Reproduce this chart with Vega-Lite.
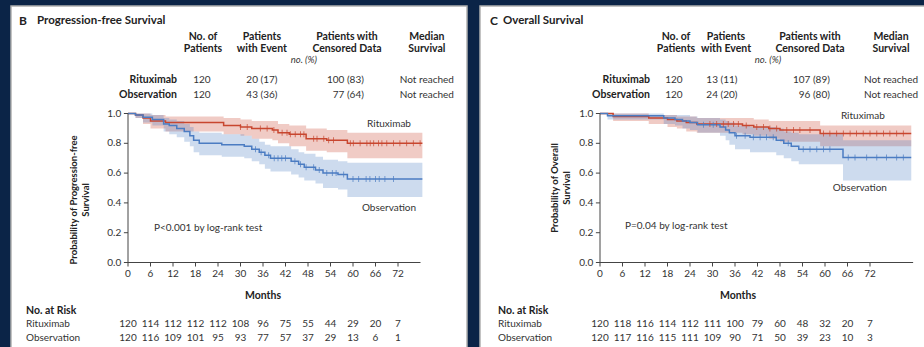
{
"$schema": "https://vega.github.io/schema/vega-lite/v6.json",
"padding": {"left": 10, "top": 5, "right": 0, "bottom": 0},
"spacing": 11,
"config": {"background": "#0b2447", "font": "Lato", "view": {"fill": "white", "stroke": "#b0b0b0", "strokeWidth": 1.5}, "axis": {"disable": true}},
"hconcat": [
{
"width": 456, "height": 342,
"layer": [
 {"data": {"values": [
  {"arm":"Rituximab","m":0,"lo":1,"hi":1},{"arm":"Rituximab","m":2,"lo":0.97,"hi":1},{"arm":"Rituximab","m":4,"lo":0.93,"hi":1},{"arm":"Rituximab","m":6,"lo":0.9,"hi":0.99},{"arm":"Rituximab","m":10,"lo":0.88,"hi":0.98},{"arm":"Rituximab","m":25.5,"lo":0.86,"hi":0.97},{"arm":"Rituximab","m":30,"lo":0.85,"hi":0.96},{"arm":"Rituximab","m":33,"lo":0.83,"hi":0.95},{"arm":"Rituximab","m":38.5,"lo":0.82,"hi":0.95},{"arm":"Rituximab","m":40,"lo":0.8,"hi":0.93},{"arm":"Rituximab","m":43,"lo":0.78,"hi":0.92},{"arm":"Rituximab","m":47.5,"lo":0.75,"hi":0.9},{"arm":"Rituximab","m":53,"lo":0.74,"hi":0.89},{"arm":"Rituximab","m":58.5,"lo":0.7,"hi":0.87},{"arm":"Rituximab","m":78.5,"lo":0.7,"hi":0.87},
  {"arm":"Observation","m":0,"lo":1,"hi":1},{"arm":"Observation","m":2,"lo":0.97,"hi":1},{"arm":"Observation","m":4,"lo":0.94,"hi":1},{"arm":"Observation","m":6.5,"lo":0.92,"hi":0.99},{"arm":"Observation","m":9.5,"lo":0.88,"hi":0.97},{"arm":"Observation","m":11,"lo":0.86,"hi":0.96},{"arm":"Observation","m":13,"lo":0.84,"hi":0.95},{"arm":"Observation","m":15,"lo":0.81,"hi":0.93},{"arm":"Observation","m":16.5,"lo":0.78,"hi":0.91},{"arm":"Observation","m":17.5,"lo":0.74,"hi":0.88},{"arm":"Observation","m":19,"lo":0.72,"hi":0.87},{"arm":"Observation","m":25,"lo":0.71,"hi":0.86},{"arm":"Observation","m":31,"lo":0.7,"hi":0.85},{"arm":"Observation","m":33,"lo":0.68,"hi":0.83},{"arm":"Observation","m":35,"lo":0.66,"hi":0.81},{"arm":"Observation","m":36.5,"lo":0.63,"hi":0.79},{"arm":"Observation","m":38,"lo":0.61,"hi":0.78},{"arm":"Observation","m":43.5,"lo":0.59,"hi":0.76},{"arm":"Observation","m":45.5,"lo":0.57,"hi":0.74},{"arm":"Observation","m":47,"lo":0.55,"hi":0.73},{"arm":"Observation","m":50,"lo":0.53,"hi":0.71},{"arm":"Observation","m":52,"lo":0.5,"hi":0.69},{"arm":"Observation","m":56,"lo":0.49,"hi":0.68},{"arm":"Observation","m":58.5,"lo":0.44,"hi":0.67},{"arm":"Observation","m":78.5,"lo":0.44,"hi":0.67}
 ]},
  "mark": {"type": "area", "interpolate": "step-after", "opacity": 0.28},
  "encoding": {
   "x": {"field": "m", "type": "quantitative", "scale": {"domain": [-31.2, 90.4], "nice": false, "zero": false}},
   "y": {"field": "lo", "type": "quantitative", "scale": {"domain": [-0.5738, 1.7215], "nice": false, "zero": false}},
   "y2": {"field": "hi"},
   "color": {"field": "arm", "type": "nominal", "scale": {"domain": ["Rituximab","Observation"], "range": ["#c8462f","#4b7cc2"]}, "legend": null}}},
 {"data": {"values": [
  {"arm":"Rituximab","m":0,"p":1},{"arm":"Rituximab","m":2,"p":0.99},{"arm":"Rituximab","m":4,"p":0.97},{"arm":"Rituximab","m":6,"p":0.95},{"arm":"Rituximab","m":10,"p":0.94},{"arm":"Rituximab","m":25.5,"p":0.92},{"arm":"Rituximab","m":30,"p":0.91},{"arm":"Rituximab","m":33,"p":0.9},{"arm":"Rituximab","m":38.5,"p":0.89},{"arm":"Rituximab","m":40,"p":0.87},{"arm":"Rituximab","m":43,"p":0.86},{"arm":"Rituximab","m":47.5,"p":0.83},{"arm":"Rituximab","m":53,"p":0.82},{"arm":"Rituximab","m":58.5,"p":0.8},{"arm":"Rituximab","m":78.5,"p":0.8},
  {"arm":"Observation","m":0,"p":1},{"arm":"Observation","m":2,"p":0.99},{"arm":"Observation","m":4,"p":0.975},{"arm":"Observation","m":6.5,"p":0.96},{"arm":"Observation","m":9.5,"p":0.93},{"arm":"Observation","m":11,"p":0.92},{"arm":"Observation","m":13,"p":0.9},{"arm":"Observation","m":15,"p":0.88},{"arm":"Observation","m":16.5,"p":0.85},{"arm":"Observation","m":17.5,"p":0.82},{"arm":"Observation","m":19,"p":0.8},{"arm":"Observation","m":25,"p":0.79},{"arm":"Observation","m":31,"p":0.78},{"arm":"Observation","m":33,"p":0.76},{"arm":"Observation","m":35,"p":0.74},{"arm":"Observation","m":36.5,"p":0.72},{"arm":"Observation","m":38,"p":0.7},{"arm":"Observation","m":43.5,"p":0.68},{"arm":"Observation","m":45.5,"p":0.66},{"arm":"Observation","m":47,"p":0.64},{"arm":"Observation","m":50,"p":0.62},{"arm":"Observation","m":52,"p":0.6},{"arm":"Observation","m":56,"p":0.59},{"arm":"Observation","m":58.5,"p":0.56},{"arm":"Observation","m":78.5,"p":0.56}
 ]},
  "mark": {"type": "line", "interpolate": "step-after", "strokeWidth": 1.5},
  "encoding": {
   "x": {"field": "m", "type": "quantitative", "scale": {"domain": [-31.2, 90.4], "nice": false, "zero": false}},
   "y": {"field": "p", "type": "quantitative", "scale": {"domain": [-0.5738, 1.7215], "nice": false, "zero": false}},
   "color": {"field": "arm", "type": "nominal", "scale": {"domain": ["Rituximab","Observation"], "range": ["#c8462f","#4b7cc2"]}, "legend": null}}},
 {"data": {"values": [
  {"arm":"Rituximab","m":30,"p":0.91},{"arm":"Rituximab","m":31.8,"p":0.91},{"arm":"Rituximab","m":35.3,"p":0.9},{"arm":"Rituximab","m":37.1,"p":0.9},{"arm":"Rituximab","m":38.9,"p":0.89},{"arm":"Rituximab","m":41.1,"p":0.87},{"arm":"Rituximab","m":42.4,"p":0.87},{"arm":"Rituximab","m":43.3,"p":0.86},{"arm":"Rituximab","m":44.6,"p":0.86},{"arm":"Rituximab","m":46,"p":0.86},{"arm":"Rituximab","m":46.9,"p":0.86},{"arm":"Rituximab","m":49.5,"p":0.83},{"arm":"Rituximab","m":50.4,"p":0.83},{"arm":"Rituximab","m":52.2,"p":0.83},{"arm":"Rituximab","m":53.5,"p":0.82},{"arm":"Rituximab","m":54.8,"p":0.82},{"arm":"Rituximab","m":59.3,"p":0.8},{"arm":"Rituximab","m":60.1,"p":0.8},{"arm":"Rituximab","m":61.9,"p":0.8},{"arm":"Rituximab","m":63.7,"p":0.8},{"arm":"Rituximab","m":64.6,"p":0.8},{"arm":"Rituximab","m":65.5,"p":0.8},{"arm":"Rituximab","m":66.8,"p":0.8},{"arm":"Rituximab","m":67.7,"p":0.8},{"arm":"Rituximab","m":69,"p":0.8},{"arm":"Rituximab","m":70.8,"p":0.8},{"arm":"Rituximab","m":72.5,"p":0.8},{"arm":"Rituximab","m":74.3,"p":0.8},{"arm":"Rituximab","m":76.1,"p":0.8},{"arm":"Rituximab","m":77.9,"p":0.8},
  {"arm":"Observation","m":34,"p":0.76},{"arm":"Observation","m":35.5,"p":0.74},{"arm":"Observation","m":37.5,"p":0.72},{"arm":"Observation","m":39,"p":0.7},{"arm":"Observation","m":40,"p":0.7},{"arm":"Observation","m":41,"p":0.7},{"arm":"Observation","m":42,"p":0.7},{"arm":"Observation","m":44.5,"p":0.68},{"arm":"Observation","m":46,"p":0.66},{"arm":"Observation","m":47.5,"p":0.64},{"arm":"Observation","m":49.5,"p":0.64},{"arm":"Observation","m":51,"p":0.62},{"arm":"Observation","m":53,"p":0.6},{"arm":"Observation","m":54.5,"p":0.6},{"arm":"Observation","m":55.5,"p":0.6},{"arm":"Observation","m":57.5,"p":0.59},{"arm":"Observation","m":60,"p":0.56},{"arm":"Observation","m":61.5,"p":0.56},{"arm":"Observation","m":63.5,"p":0.56},{"arm":"Observation","m":64.5,"p":0.56},{"arm":"Observation","m":66,"p":0.56},{"arm":"Observation","m":67,"p":0.56},{"arm":"Observation","m":68.5,"p":0.56},{"arm":"Observation","m":70.8,"p":0.56}
 ]},
  "mark": {"type": "tick", "orient": "vertical", "size": 6, "thickness": 1},
  "encoding": {
   "x": {"field": "m", "type": "quantitative", "scale": {"domain": [-31.2, 90.4], "nice": false, "zero": false}},
   "y": {"field": "p", "type": "quantitative", "scale": {"domain": [-0.5738, 1.7215], "nice": false, "zero": false}},
   "color": {"field": "arm", "type": "nominal", "scale": {"domain": ["Rituximab","Observation"], "range": ["#c8462f","#4b7cc2"]}, "legend": null}}},
 {"data": {"values": [
  {"m":0,"m2":78,"p":0,"p2":0},{"m":0,"m2":0,"p":0,"p2":1},
  {"m":0,"m2":0,"p":0,"p2":-0.027},{"m":6,"m2":6,"p":0,"p2":-0.027},{"m":12,"m2":12,"p":0,"p2":-0.027},{"m":18,"m2":18,"p":0,"p2":-0.027},{"m":24,"m2":24,"p":0,"p2":-0.027},{"m":30,"m2":30,"p":0,"p2":-0.027},{"m":36,"m2":36,"p":0,"p2":-0.027},{"m":42,"m2":42,"p":0,"p2":-0.027},{"m":48,"m2":48,"p":0,"p2":-0.027},{"m":54,"m2":54,"p":0,"p2":-0.027},{"m":60,"m2":60,"p":0,"p2":-0.027},{"m":66,"m2":66,"p":0,"p2":-0.027},{"m":72,"m2":72,"p":0,"p2":-0.027},
  {"m":0,"m2":-1.1,"p":0,"p2":0},{"m":0,"m2":-1.1,"p":0.2,"p2":0.2},{"m":0,"m2":-1.1,"p":0.4,"p2":0.4},{"m":0,"m2":-1.1,"p":0.6,"p2":0.6},{"m":0,"m2":-1.1,"p":0.8,"p2":0.8},{"m":0,"m2":-1.1,"p":1,"p2":1}
 ]},
  "mark": {"type": "rule", "color": "#444", "strokeWidth": 1},
  "encoding": {
   "x": {"field": "m", "type": "quantitative", "scale": {"domain": [-31.2, 90.4], "nice": false, "zero": false}},
   "x2": {"field": "m2"},
   "y": {"field": "p", "type": "quantitative", "scale": {"domain": [-0.5738, 1.7215], "nice": false, "zero": false}},
   "y2": {"field": "p2"}}},
 {"data": {"values": [
  {"t":"0","m":0,"p":-0.077},{"t":"6","m":6,"p":-0.077},{"t":"12","m":12,"p":-0.077},{"t":"18","m":18,"p":-0.077},{"t":"24","m":24,"p":-0.077},{"t":"30","m":30,"p":-0.077},{"t":"36","m":36,"p":-0.077},{"t":"42","m":42,"p":-0.077},{"t":"48","m":48,"p":-0.077},{"t":"54","m":54,"p":-0.077},{"t":"60","m":60,"p":-0.077},{"t":"66","m":66,"p":-0.077},{"t":"72","m":72,"p":-0.077}
 ]},
  "mark": {"type": "text", "align": "center", "baseline": "middle", "fontSize": 10, "color": "#333"},
  "encoding": {
   "x": {"field": "m", "type": "quantitative", "scale": {"domain": [-31.2, 90.4], "nice": false, "zero": false}},
   "y": {"field": "p", "type": "quantitative", "scale": {"domain": [-0.5738, 1.7215], "nice": false, "zero": false}},
   "text": {"field": "t"}}},
 {"data": {"values": [
  {"t":"0.0","m":-1.8,"p":0},{"t":"0.2","m":-1.8,"p":0.2},{"t":"0.4","m":-1.8,"p":0.4},{"t":"0.6","m":-1.8,"p":0.6},{"t":"0.8","m":-1.8,"p":0.8},{"t":"1.0","m":-1.8,"p":1}
 ]},
  "mark": {"type": "text", "align": "right", "baseline": "middle", "fontSize": 10, "color": "#333"},
  "encoding": {
   "x": {"field": "m", "type": "quantitative", "scale": {"domain": [-31.2, 90.4], "nice": false, "zero": false}},
   "y": {"field": "p", "type": "quantitative", "scale": {"domain": [-0.5738, 1.7215], "nice": false, "zero": false}},
   "text": {"field": "t"}}},
 {"data": {"values": [
  {"t":"No. of","m":20.0,"p":1.513},{"t":"Patients","m":20.0,"p":1.433},{"t":"Patients","m":35.7,"p":1.513},{"t":"with Event","m":35.7,"p":1.433},{"t":"Patients with","m":58.4,"p":1.513},{"t":"Censored Data","m":58.4,"p":1.433},{"t":"Median","m":79.7,"p":1.513},{"t":"Survival","m":79.7,"p":1.433},{"t":"Months","m":36,"p":-0.2248}
 ]},
  "mark": {"type": "text", "align": "center", "baseline": "middle", "fontWeight": "bold", "fontSize": 10.5, "color": "#222"},
  "encoding": {
   "x": {"field": "m", "type": "quantitative", "scale": {"domain": [-31.2, 90.4], "nice": false, "zero": false}},
   "y": {"field": "p", "type": "quantitative", "scale": {"domain": [-0.5738, 1.7215], "nice": false, "zero": false}},
   "text": {"field": "t"}}},
 {"data": {"values": [{"t": "B", "m": -29.07, "p": 1.621}]},
  "mark": {"type": "text", "align": "left", "baseline": "middle", "fontWeight": "bold", "fontSize": 12, "color": "#222"},
  "encoding": {
   "x": {"field": "m", "type": "quantitative", "scale": {"domain": [-31.2, 90.4], "nice": false, "zero": false}},
   "y": {"field": "p", "type": "quantitative", "scale": {"domain": [-0.5738, 1.7215], "nice": false, "zero": false}},
   "text": {"field": "t"}}},
 {"data": {"values": [{"t": "Progression-free Survival", "m": -24.27, "p": 1.621}]},
  "mark": {"type": "text", "align": "left", "baseline": "middle", "fontWeight": "bold", "fontSize": 11.5, "color": "#222"},
  "encoding": {
   "x": {"field": "m", "type": "quantitative", "scale": {"domain": [-31.2, 90.4], "nice": false, "zero": false}},
   "y": {"field": "p", "type": "quantitative", "scale": {"domain": [-0.5738, 1.7215], "nice": false, "zero": false}},
   "text": {"field": "t"}}},
 {"data": {"values": [{"t": "No. at Risk", "m": -27.2, "p": -0.3255}]},
  "mark": {"type": "text", "align": "left", "baseline": "middle", "fontWeight": "bold", "fontSize": 10.5, "color": "#222"},
  "encoding": {
   "x": {"field": "m", "type": "quantitative", "scale": {"domain": [-31.2, 90.4], "nice": false, "zero": false}},
   "y": {"field": "p", "type": "quantitative", "scale": {"domain": [-0.5738, 1.7215], "nice": false, "zero": false}},
   "text": {"field": "t"}}},
 {"data": {"values": [{"t": "no. (%)", "m": 46.9, "p": 1.359}]},
  "mark": {"type": "text", "align": "center", "baseline": "middle", "fontStyle": "italic", "fontSize": 9.5, "color": "#333"},
  "encoding": {
   "x": {"field": "m", "type": "quantitative", "scale": {"domain": [-31.2, 90.4], "nice": false, "zero": false}},
   "y": {"field": "p", "type": "quantitative", "scale": {"domain": [-0.5738, 1.7215], "nice": false, "zero": false}},
   "text": {"field": "t"}}},
 {"data": {"values": [{"t": "Rituximab", "m": 13.07, "p": 1.225}, {"t": "Observation", "m": 13.07, "p": 1.124}]},
  "mark": {"type": "text", "align": "right", "baseline": "middle", "fontWeight": "bold", "fontSize": 10.5, "color": "#222"},
  "encoding": {
   "x": {"field": "m", "type": "quantitative", "scale": {"domain": [-31.2, 90.4], "nice": false, "zero": false}},
   "y": {"field": "p", "type": "quantitative", "scale": {"domain": [-0.5738, 1.7215], "nice": false, "zero": false}},
   "text": {"field": "t"}}},
 {"data": {"values": [
  {"t":"120","m":19.7,"p":1.225},{"t":"120","m":19.7,"p":1.124},{"t":"20 (17)","m":35.7,"p":1.225},{"t":"43 (36)","m":35.7,"p":1.124},{"t":"Not reached","m":79.7,"p":1.225},{"t":"Not reached","m":79.7,"p":1.124},
  {"t":"Rituximab","m":69.6,"p":0.9295},{"t":"Observation","m":69.6,"p":0.366},
  {"t":"120","m":0,"p":-0.4128},{"t":"114","m":6,"p":-0.4128},{"t":"112","m":12,"p":-0.4128},{"t":"112","m":18,"p":-0.4128},{"t":"112","m":24,"p":-0.4128},{"t":"108","m":30,"p":-0.4128},{"t":"96","m":36,"p":-0.4128},{"t":"75","m":42,"p":-0.4128},{"t":"55","m":48,"p":-0.4128},{"t":"44","m":54,"p":-0.4128},{"t":"29","m":60,"p":-0.4128},{"t":"20","m":66,"p":-0.4128},{"t":"7","m":72,"p":-0.4128},
  {"t":"120","m":0,"p":-0.5067},{"t":"116","m":6,"p":-0.5067},{"t":"109","m":12,"p":-0.5067},{"t":"101","m":18,"p":-0.5067},{"t":"95","m":24,"p":-0.5067},{"t":"93","m":30,"p":-0.5067},{"t":"77","m":36,"p":-0.5067},{"t":"57","m":42,"p":-0.5067},{"t":"37","m":48,"p":-0.5067},{"t":"29","m":54,"p":-0.5067},{"t":"13","m":60,"p":-0.5067},{"t":"6","m":66,"p":-0.5067},{"t":"1","m":72,"p":-0.5067}
 ]},
  "mark": {"type": "text", "align": "center", "baseline": "middle", "fontSize": 10, "color": "#333"},
  "encoding": {
   "x": {"field": "m", "type": "quantitative", "scale": {"domain": [-31.2, 90.4], "nice": false, "zero": false}},
   "y": {"field": "p", "type": "quantitative", "scale": {"domain": [-0.5738, 1.7215], "nice": false, "zero": false}},
   "text": {"field": "t"}}},
 {"data": {"values": [{"t":"100 (83)","m":62.9,"p":1.225},{"t":"77 (64)","m":62.9,"p":1.124}]},
  "mark": {"type": "text", "align": "right", "baseline": "middle", "fontSize": 10, "color": "#333"},
  "encoding": {
   "x": {"field": "m", "type": "quantitative", "scale": {"domain": [-31.2, 90.4], "nice": false, "zero": false}},
   "y": {"field": "p", "type": "quantitative", "scale": {"domain": [-0.5738, 1.7215], "nice": false, "zero": false}},
   "text": {"field": "t"}}},
 {"data": {"values": [{"t":"P<0.001 by log-rank test","m":6.93,"p":0.2315},{"t":"Rituximab","m":-27.2,"p":-0.4128},{"t":"Observation","m":-27.2,"p":-0.5067}]},
  "mark": {"type": "text", "align": "left", "baseline": "middle", "fontSize": 10, "color": "#333"},
  "encoding": {
   "x": {"field": "m", "type": "quantitative", "scale": {"domain": [-31.2, 90.4], "nice": false, "zero": false}},
   "y": {"field": "p", "type": "quantitative", "scale": {"domain": [-0.5738, 1.7215], "nice": false, "zero": false}},
   "text": {"field": "t"}}},
 {"data": {"values": [{"t":"Probability of Progression-free\nSurvival","m":-14.4,"p":0.42}]},
  "mark": {"type": "text", "align": "center", "baseline": "middle", "angle": 270, "lineBreak": "\n", "lineHeight": 12, "fontWeight": "bold", "fontSize": 9.5, "color": "#222"},
  "encoding": {
   "x": {"field": "m", "type": "quantitative", "scale": {"domain": [-31.2, 90.4], "nice": false, "zero": false}},
   "y": {"field": "p", "type": "quantitative", "scale": {"domain": [-0.5738, 1.7215], "nice": false, "zero": false}},
   "text": {"field": "t"}}}
]
},
{
"width": 447, "height": 342,
"layer": [
 {"data": {"values": [
  {"arm":"Rituximab","m":0,"lo":1,"hi":1},{"arm":"Rituximab","m":3.5,"lo":0.95,"hi":1},{"arm":"Rituximab","m":13,"lo":0.93,"hi":0.99},{"arm":"Rituximab","m":18,"lo":0.91,"hi":0.99},{"arm":"Rituximab","m":20.5,"lo":0.9,"hi":0.98},{"arm":"Rituximab","m":23,"lo":0.88,"hi":0.98},{"arm":"Rituximab","m":25.8,"lo":0.87,"hi":0.97},{"arm":"Rituximab","m":38,"lo":0.86,"hi":0.97},{"arm":"Rituximab","m":41,"lo":0.85,"hi":0.96},{"arm":"Rituximab","m":45,"lo":0.83,"hi":0.95},{"arm":"Rituximab","m":48,"lo":0.81,"hi":0.95},{"arm":"Rituximab","m":58.7,"lo":0.78,"hi":0.92},{"arm":"Rituximab","m":83,"lo":0.78,"hi":0.92},
  {"arm":"Observation","m":0,"lo":1,"hi":1},{"arm":"Observation","m":2,"lo":0.96,"hi":1},{"arm":"Observation","m":17,"lo":0.93,"hi":0.99},{"arm":"Observation","m":20,"lo":0.92,"hi":0.99},{"arm":"Observation","m":22,"lo":0.9,"hi":0.99},{"arm":"Observation","m":24,"lo":0.89,"hi":0.98},{"arm":"Observation","m":26,"lo":0.87,"hi":0.97},{"arm":"Observation","m":32,"lo":0.85,"hi":0.96},{"arm":"Observation","m":33.5,"lo":0.82,"hi":0.95},{"arm":"Observation","m":34.5,"lo":0.79,"hi":0.94},{"arm":"Observation","m":36,"lo":0.76,"hi":0.92},{"arm":"Observation","m":40,"lo":0.74,"hi":0.91},{"arm":"Observation","m":47,"lo":0.72,"hi":0.9},{"arm":"Observation","m":49,"lo":0.7,"hi":0.88},{"arm":"Observation","m":51,"lo":0.68,"hi":0.87},{"arm":"Observation","m":53,"lo":0.66,"hi":0.86},{"arm":"Observation","m":64.8,"lo":0.55,"hi":0.82},{"arm":"Observation","m":83,"lo":0.55,"hi":0.82}
 ]},
  "mark": {"type": "area", "interpolate": "step-after", "opacity": 0.28},
  "encoding": {
   "x": {"field": "m", "type": "quantitative", "scale": {"domain": [-32, 87.2], "nice": false, "zero": false}},
   "y": {"field": "lo", "type": "quantitative", "scale": {"domain": [-0.5738, 1.7215], "nice": false, "zero": false}},
   "y2": {"field": "hi"},
   "color": {"field": "arm", "type": "nominal", "scale": {"domain": ["Rituximab","Observation"], "range": ["#c8462f","#4b7cc2"]}, "legend": null}}},
 {"data": {"values": [
  {"arm":"Rituximab","m":0,"p":1},{"arm":"Rituximab","m":3.5,"p":0.98},{"arm":"Rituximab","m":13,"p":0.97},{"arm":"Rituximab","m":18,"p":0.96},{"arm":"Rituximab","m":20.5,"p":0.95},{"arm":"Rituximab","m":23,"p":0.94},{"arm":"Rituximab","m":25.8,"p":0.93},{"arm":"Rituximab","m":38,"p":0.92},{"arm":"Rituximab","m":41,"p":0.91},{"arm":"Rituximab","m":45,"p":0.9},{"arm":"Rituximab","m":48,"p":0.89},{"arm":"Rituximab","m":58.7,"p":0.865},{"arm":"Rituximab","m":83,"p":0.865},
  {"arm":"Observation","m":0,"p":1},{"arm":"Observation","m":2,"p":0.985},{"arm":"Observation","m":17,"p":0.97},{"arm":"Observation","m":20,"p":0.96},{"arm":"Observation","m":22,"p":0.95},{"arm":"Observation","m":24,"p":0.94},{"arm":"Observation","m":26,"p":0.925},{"arm":"Observation","m":32,"p":0.91},{"arm":"Observation","m":33.5,"p":0.89},{"arm":"Observation","m":34.5,"p":0.87},{"arm":"Observation","m":36,"p":0.85},{"arm":"Observation","m":40,"p":0.84},{"arm":"Observation","m":47,"p":0.82},{"arm":"Observation","m":49,"p":0.8},{"arm":"Observation","m":51,"p":0.78},{"arm":"Observation","m":53,"p":0.76},{"arm":"Observation","m":64.8,"p":0.705},{"arm":"Observation","m":83,"p":0.705}
 ]},
  "mark": {"type": "line", "interpolate": "step-after", "strokeWidth": 1.5},
  "encoding": {
   "x": {"field": "m", "type": "quantitative", "scale": {"domain": [-32, 87.2], "nice": false, "zero": false}},
   "y": {"field": "p", "type": "quantitative", "scale": {"domain": [-0.5738, 1.7215], "nice": false, "zero": false}},
   "color": {"field": "arm", "type": "nominal", "scale": {"domain": ["Rituximab","Observation"], "range": ["#c8462f","#4b7cc2"]}, "legend": null}}},
 {"data": {"values": [
  {"arm":"Rituximab","m":29.3,"p":0.93},{"arm":"Rituximab","m":31.1,"p":0.93},{"arm":"Rituximab","m":32.9,"p":0.93},{"arm":"Rituximab","m":34.2,"p":0.93},{"arm":"Rituximab","m":35.6,"p":0.93},{"arm":"Rituximab","m":36.9,"p":0.93},{"arm":"Rituximab","m":39,"p":0.92},{"arm":"Rituximab","m":41.8,"p":0.91},{"arm":"Rituximab","m":43.6,"p":0.91},{"arm":"Rituximab","m":45.3,"p":0.9},{"arm":"Rituximab","m":47.1,"p":0.9},{"arm":"Rituximab","m":49.8,"p":0.89},{"arm":"Rituximab","m":51.6,"p":0.89},{"arm":"Rituximab","m":53.3,"p":0.89},{"arm":"Rituximab","m":56,"p":0.89},{"arm":"Rituximab","m":59.6,"p":0.865},{"arm":"Rituximab","m":61.3,"p":0.865},{"arm":"Rituximab","m":63.1,"p":0.865},{"arm":"Rituximab","m":64.9,"p":0.865},{"arm":"Rituximab","m":66.7,"p":0.865},{"arm":"Rituximab","m":68.4,"p":0.865},{"arm":"Rituximab","m":70.2,"p":0.865},{"arm":"Rituximab","m":72,"p":0.865},{"arm":"Rituximab","m":73.8,"p":0.865},{"arm":"Rituximab","m":75.6,"p":0.865},{"arm":"Rituximab","m":77.3,"p":0.865},{"arm":"Rituximab","m":79.1,"p":0.865},{"arm":"Rituximab","m":80.9,"p":0.865},
  {"arm":"Observation","m":27.6,"p":0.925},{"arm":"Observation","m":30.2,"p":0.925},{"arm":"Observation","m":36.4,"p":0.85},{"arm":"Observation","m":38.7,"p":0.85},{"arm":"Observation","m":40.9,"p":0.84},{"arm":"Observation","m":42.7,"p":0.84},{"arm":"Observation","m":44.4,"p":0.84},{"arm":"Observation","m":46.2,"p":0.84},{"arm":"Observation","m":50.2,"p":0.8},{"arm":"Observation","m":54.2,"p":0.76},{"arm":"Observation","m":56,"p":0.76},{"arm":"Observation","m":57.8,"p":0.76},{"arm":"Observation","m":59.6,"p":0.76},{"arm":"Observation","m":61.3,"p":0.76},{"arm":"Observation","m":66.2,"p":0.705},{"arm":"Observation","m":68,"p":0.705},{"arm":"Observation","m":71.1,"p":0.705},{"arm":"Observation","m":73.8,"p":0.705},{"arm":"Observation","m":76.4,"p":0.705},{"arm":"Observation","m":79.1,"p":0.705},{"arm":"Observation","m":80.9,"p":0.705}
 ]},
  "mark": {"type": "tick", "orient": "vertical", "size": 6, "thickness": 1},
  "encoding": {
   "x": {"field": "m", "type": "quantitative", "scale": {"domain": [-32, 87.2], "nice": false, "zero": false}},
   "y": {"field": "p", "type": "quantitative", "scale": {"domain": [-0.5738, 1.7215], "nice": false, "zero": false}},
   "color": {"field": "arm", "type": "nominal", "scale": {"domain": ["Rituximab","Observation"], "range": ["#c8462f","#4b7cc2"]}, "legend": null}}},
 {"data": {"values": [
  {"m":0,"m2":83.5,"p":0,"p2":0},{"m":0,"m2":0,"p":0,"p2":1},
  {"m":0,"m2":0,"p":0,"p2":-0.027},{"m":6,"m2":6,"p":0,"p2":-0.027},{"m":12,"m2":12,"p":0,"p2":-0.027},{"m":18,"m2":18,"p":0,"p2":-0.027},{"m":24,"m2":24,"p":0,"p2":-0.027},{"m":30,"m2":30,"p":0,"p2":-0.027},{"m":36,"m2":36,"p":0,"p2":-0.027},{"m":42,"m2":42,"p":0,"p2":-0.027},{"m":48,"m2":48,"p":0,"p2":-0.027},{"m":54,"m2":54,"p":0,"p2":-0.027},{"m":60,"m2":60,"p":0,"p2":-0.027},{"m":66,"m2":66,"p":0,"p2":-0.027},{"m":72,"m2":72,"p":0,"p2":-0.027},
  {"m":0,"m2":-1.1,"p":0,"p2":0},{"m":0,"m2":-1.1,"p":0.2,"p2":0.2},{"m":0,"m2":-1.1,"p":0.4,"p2":0.4},{"m":0,"m2":-1.1,"p":0.6,"p2":0.6},{"m":0,"m2":-1.1,"p":0.8,"p2":0.8},{"m":0,"m2":-1.1,"p":1,"p2":1}
 ]},
  "mark": {"type": "rule", "color": "#444", "strokeWidth": 1},
  "encoding": {
   "x": {"field": "m", "type": "quantitative", "scale": {"domain": [-32, 87.2], "nice": false, "zero": false}},
   "x2": {"field": "m2"},
   "y": {"field": "p", "type": "quantitative", "scale": {"domain": [-0.5738, 1.7215], "nice": false, "zero": false}},
   "y2": {"field": "p2"}}},
 {"data": {"values": [
  {"t":"0","m":0,"p":-0.077},{"t":"6","m":6,"p":-0.077},{"t":"12","m":12,"p":-0.077},{"t":"18","m":18,"p":-0.077},{"t":"24","m":24,"p":-0.077},{"t":"30","m":30,"p":-0.077},{"t":"36","m":36,"p":-0.077},{"t":"42","m":42,"p":-0.077},{"t":"48","m":48,"p":-0.077},{"t":"54","m":54,"p":-0.077},{"t":"60","m":60,"p":-0.077},{"t":"66","m":66,"p":-0.077},{"t":"72","m":72,"p":-0.077}
 ]},
  "mark": {"type": "text", "align": "center", "baseline": "middle", "fontSize": 10, "color": "#333"},
  "encoding": {
   "x": {"field": "m", "type": "quantitative", "scale": {"domain": [-32, 87.2], "nice": false, "zero": false}},
   "y": {"field": "p", "type": "quantitative", "scale": {"domain": [-0.5738, 1.7215], "nice": false, "zero": false}},
   "text": {"field": "t"}}},
 {"data": {"values": [
  {"t":"0.0","m":-1.8,"p":0},{"t":"0.2","m":-1.8,"p":0.2},{"t":"0.4","m":-1.8,"p":0.4},{"t":"0.6","m":-1.8,"p":0.6},{"t":"0.8","m":-1.8,"p":0.8},{"t":"1.0","m":-1.8,"p":1}
 ]},
  "mark": {"type": "text", "align": "right", "baseline": "middle", "fontSize": 10, "color": "#333"},
  "encoding": {
   "x": {"field": "m", "type": "quantitative", "scale": {"domain": [-32, 87.2], "nice": false, "zero": false}},
   "y": {"field": "p", "type": "quantitative", "scale": {"domain": [-0.5738, 1.7215], "nice": false, "zero": false}},
   "text": {"field": "t"}}},
 {"data": {"values": [
  {"t":"No. of","m":20.27,"p":1.513},{"t":"Patients","m":20.27,"p":1.433},{"t":"Patients","m":33.6,"p":1.513},{"t":"with Event","m":33.6,"p":1.433},{"t":"Patients with","m":56,"p":1.513},{"t":"Censored Data","m":56,"p":1.433},{"t":"Median","m":77.6,"p":1.513},{"t":"Survival","m":77.6,"p":1.433},{"t":"Months","m":36.8,"p":-0.2248}
 ]},
  "mark": {"type": "text", "align": "center", "baseline": "middle", "fontWeight": "bold", "fontSize": 10.5, "color": "#222"},
  "encoding": {
   "x": {"field": "m", "type": "quantitative", "scale": {"domain": [-32, 87.2], "nice": false, "zero": false}},
   "y": {"field": "p", "type": "quantitative", "scale": {"domain": [-0.5738, 1.7215], "nice": false, "zero": false}},
   "text": {"field": "t"}}},
 {"data": {"values": [{"t": "C", "m": -29.33, "p": 1.621}]},
  "mark": {"type": "text", "align": "left", "baseline": "middle", "fontWeight": "bold", "fontSize": 12, "color": "#222"},
  "encoding": {
   "x": {"field": "m", "type": "quantitative", "scale": {"domain": [-32, 87.2], "nice": false, "zero": false}},
   "y": {"field": "p", "type": "quantitative", "scale": {"domain": [-0.5738, 1.7215], "nice": false, "zero": false}},
   "text": {"field": "t"}}},
 {"data": {"values": [{"t": "Overall Survival", "m": -25.87, "p": 1.621}]},
  "mark": {"type": "text", "align": "left", "baseline": "middle", "fontWeight": "bold", "fontSize": 11.5, "color": "#222"},
  "encoding": {
   "x": {"field": "m", "type": "quantitative", "scale": {"domain": [-32, 87.2], "nice": false, "zero": false}},
   "y": {"field": "p", "type": "quantitative", "scale": {"domain": [-0.5738, 1.7215], "nice": false, "zero": false}},
   "text": {"field": "t"}}},
 {"data": {"values": [{"t": "No. at Risk", "m": -27.2, "p": -0.3255}]},
  "mark": {"type": "text", "align": "left", "baseline": "middle", "fontWeight": "bold", "fontSize": 10.5, "color": "#222"},
  "encoding": {
   "x": {"field": "m", "type": "quantitative", "scale": {"domain": [-32, 87.2], "nice": false, "zero": false}},
   "y": {"field": "p", "type": "quantitative", "scale": {"domain": [-0.5738, 1.7215], "nice": false, "zero": false}},
   "text": {"field": "t"}}},
 {"data": {"values": [{"t": "no. (%)", "m": 44.8, "p": 1.359}]},
  "mark": {"type": "text", "align": "center", "baseline": "middle", "fontStyle": "italic", "fontSize": 9.5, "color": "#333"},
  "encoding": {
   "x": {"field": "m", "type": "quantitative", "scale": {"domain": [-32, 87.2], "nice": false, "zero": false}},
   "y": {"field": "p", "type": "quantitative", "scale": {"domain": [-0.5738, 1.7215], "nice": false, "zero": false}},
   "text": {"field": "t"}}},
 {"data": {"values": [{"t": "Rituximab", "m": 13.33, "p": 1.225}, {"t": "Observation", "m": 13.33, "p": 1.124}]},
  "mark": {"type": "text", "align": "right", "baseline": "middle", "fontWeight": "bold", "fontSize": 10.5, "color": "#222"},
  "encoding": {
   "x": {"field": "m", "type": "quantitative", "scale": {"domain": [-32, 87.2], "nice": false, "zero": false}},
   "y": {"field": "p", "type": "quantitative", "scale": {"domain": [-0.5738, 1.7215], "nice": false, "zero": false}},
   "text": {"field": "t"}}},
 {"data": {"values": [
  {"t":"120","m":19.7,"p":1.225},{"t":"120","m":19.7,"p":1.124},{"t":"13 (11)","m":32.5,"p":1.225},{"t":"24 (20)","m":32.5,"p":1.124},{"t":"Not reached","m":77.6,"p":1.225},{"t":"Not reached","m":77.6,"p":1.124},
  {"t":"Rituximab","m":70.1,"p":0.983},{"t":"Observation","m":69.3,"p":0.5},
  {"t":"120","m":0,"p":-0.4128},{"t":"118","m":6,"p":-0.4128},{"t":"116","m":12,"p":-0.4128},{"t":"114","m":18,"p":-0.4128},{"t":"112","m":24,"p":-0.4128},{"t":"111","m":30,"p":-0.4128},{"t":"100","m":36,"p":-0.4128},{"t":"79","m":42,"p":-0.4128},{"t":"60","m":48,"p":-0.4128},{"t":"48","m":54,"p":-0.4128},{"t":"32","m":60,"p":-0.4128},{"t":"20","m":66,"p":-0.4128},{"t":"7","m":72,"p":-0.4128},
  {"t":"120","m":0,"p":-0.5067},{"t":"117","m":6,"p":-0.5067},{"t":"116","m":12,"p":-0.5067},{"t":"115","m":18,"p":-0.5067},{"t":"111","m":24,"p":-0.5067},{"t":"109","m":30,"p":-0.5067},{"t":"90","m":36,"p":-0.5067},{"t":"71","m":42,"p":-0.5067},{"t":"50","m":48,"p":-0.5067},{"t":"39","m":54,"p":-0.5067},{"t":"23","m":60,"p":-0.5067},{"t":"10","m":66,"p":-0.5067},{"t":"3","m":72,"p":-0.5067}
 ]},
  "mark": {"type": "text", "align": "center", "baseline": "middle", "fontSize": 10, "color": "#333"},
  "encoding": {
   "x": {"field": "m", "type": "quantitative", "scale": {"domain": [-32, 87.2], "nice": false, "zero": false}},
   "y": {"field": "p", "type": "quantitative", "scale": {"domain": [-0.5738, 1.7215], "nice": false, "zero": false}},
   "text": {"field": "t"}}},
 {"data": {"values": [{"t":"107 (89)","m":61.3,"p":1.225},{"t":"96 (80)","m":61.3,"p":1.124}]},
  "mark": {"type": "text", "align": "right", "baseline": "middle", "fontSize": 10, "color": "#333"},
  "encoding": {
   "x": {"field": "m", "type": "quantitative", "scale": {"domain": [-32, 87.2], "nice": false, "zero": false}},
   "y": {"field": "p", "type": "quantitative", "scale": {"domain": [-0.5738, 1.7215], "nice": false, "zero": false}},
   "text": {"field": "t"}}},
 {"data": {"values": [{"t":"P=0.04 by log-rank test","m":6.67,"p":0.245},{"t":"Rituximab","m":-27.2,"p":-0.4128},{"t":"Observation","m":-27.2,"p":-0.5067}]},
  "mark": {"type": "text", "align": "left", "baseline": "middle", "fontSize": 10, "color": "#333"},
  "encoding": {
   "x": {"field": "m", "type": "quantitative", "scale": {"domain": [-32, 87.2], "nice": false, "zero": false}},
   "y": {"field": "p", "type": "quantitative", "scale": {"domain": [-0.5738, 1.7215], "nice": false, "zero": false}},
   "text": {"field": "t"}}},
 {"data": {"values": [{"t":"Probability of Overall\nSurvival","m":-12.0,"p":0.5}]},
  "mark": {"type": "text", "align": "center", "baseline": "middle", "angle": 270, "lineBreak": "\n", "lineHeight": 12, "fontWeight": "bold", "fontSize": 9.5, "color": "#222"},
  "encoding": {
   "x": {"field": "m", "type": "quantitative", "scale": {"domain": [-32, 87.2], "nice": false, "zero": false}},
   "y": {"field": "p", "type": "quantitative", "scale": {"domain": [-0.5738, 1.7215], "nice": false, "zero": false}},
   "text": {"field": "t"}}}
]
}
]
}
